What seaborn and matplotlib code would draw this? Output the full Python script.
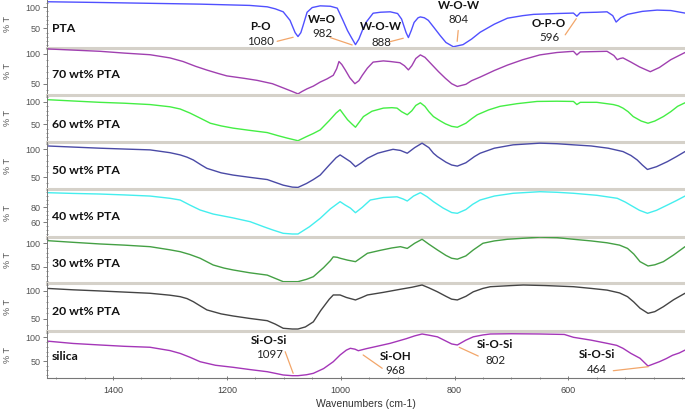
import matplotlib
matplotlib.use("Agg")
import matplotlib.pyplot as plt
import seaborn as sns
import pandas as pd
from matplotlib.ticker import MultipleLocator, FixedLocator

sns.set_theme(style="white")
plt.rcParams["font.family"] = ["Lato", "DejaVu Sans"]

# ---------------- data (wavenumber cm-1, %T) ----------------
pta_wn = [1516, 1431, 1247, 1160, 1129, 1115, 1101, 1089, 1080, 1075, 1070, 1066, 1059, 1050, 1036, 1018, 1006, 996, 988, 983, 974, 968, 962, 955, 943, 930, 913, 900, 893, 885, 881, 876, 871, 864, 860, 853, 846, 836, 825, 815, 802, 785, 770, 755, 730, 707, 680, 661, 620, 591, 585, 579, 550, 532, 522, 516, 508, 496, 470, 444, 420, 395]
pta_t = [112.6, 111, 107, 104, 100.7, 96, 89, 69, 40, 31, 40, 57, 88, 99, 103, 102, 97.6, 69, 45, 33, 12, 25, 45, 65, 85.7, 88, 89, 85, 72, 40, 28.6, 45, 64, 75, 77, 75, 69, 52, 33, 17, 7, 12, 25, 41, 60, 74, 80, 83, 85, 86, 78.6, 87, 88, 89, 80, 65, 75, 83, 90, 93, 92, 86]

w70_wn = [1516, 1470, 1423, 1380, 1335, 1300, 1277, 1255, 1235, 1215, 1200, 1170, 1147, 1120, 1101, 1085, 1075, 1068, 1059, 1048, 1036, 1024, 1013, 1007, 1003, 998, 992, 984, 975, 968, 962, 953, 943, 925, 913, 896, 888, 881, 875, 868, 860, 852, 845, 839, 828, 816, 805, 795, 780, 770, 755, 730, 707, 680, 650, 620, 591, 585, 579, 532, 520, 514, 509, 504, 490, 475, 456, 440, 420, 395]
w70_t = [108, 106, 104, 101, 98.3, 93, 87, 79, 72.7, 67, 63, 59, 55.6, 50, 43, 37, 33, 37, 41.5, 46, 52.7, 58, 64, 75, 87, 82, 73, 60, 50, 55, 64, 76, 86, 88, 87, 85, 80, 73, 80, 92, 98, 94, 87, 81, 70, 59, 50, 45.4, 49, 55, 61, 72, 81, 90, 98, 102, 104, 98, 103, 104, 97, 90, 92, 93, 86, 78, 70, 77, 90, 102]

w60_wn = [1516, 1470, 1423, 1380, 1335, 1300, 1282, 1265, 1247, 1229, 1210, 1189, 1160, 1129, 1110, 1094, 1075, 1060, 1048, 1036, 1020, 1008, 1001, 995, 988, 980, 974, 967, 960, 945, 925, 910, 901, 893, 883, 875, 868, 860, 852, 845, 837, 826, 816, 805, 795, 780, 770, 760, 740, 720, 690, 655, 620, 591, 585, 579, 550, 521, 512, 504, 495, 486, 472, 460, 448, 433, 420, 408, 395]
w60_t = [105, 102, 99, 97, 94, 89, 84, 75, 63.6, 52, 46, 41, 36, 31, 24, 18.6, 12.7, 22, 29, 37, 58, 75, 82.5, 72, 60, 50, 43, 55, 67, 79, 86, 87, 86, 78, 71, 80, 92, 98, 90, 78, 67, 58, 50.7, 45, 43, 52, 62, 71, 82, 90, 96, 101, 101.5, 101, 94, 99, 99, 94, 91, 86, 78, 67, 57, 52, 57, 67, 78, 90, 98]

w50_wn = [1516, 1470, 1423, 1380, 1335, 1300, 1282, 1270, 1259, 1245, 1235, 1210, 1189, 1160, 1129, 1115, 1101, 1085, 1075, 1060, 1048, 1036, 1020, 1008, 1001, 992, 983, 974, 965, 953, 935, 920, 908, 895, 883, 870, 857, 845, 837, 830, 815, 805, 795, 780, 765, 755, 730, 697, 650, 620, 591, 560, 530, 504, 490, 479, 470, 461, 445, 426, 410, 395]
w50_t = [106, 104, 102, 100.5, 99, 94, 90, 86, 81, 72, 66, 58, 54, 50, 46, 41, 36, 32.5, 32, 39, 46, 54, 72, 85, 90, 84, 78, 69, 75, 84, 93, 97, 100, 98, 93, 103, 111, 103, 93, 87, 77, 72, 70, 76, 87, 93, 102, 108, 111, 110, 108, 106, 102, 96, 89, 81, 72, 64, 69, 78, 87, 96]

w40_wn = [1516, 1470, 1423, 1380, 1335, 1300, 1282, 1265, 1247, 1224, 1190, 1159, 1135, 1119, 1101, 1085, 1075, 1055, 1036, 1018, 1001, 992, 983, 974, 962, 948, 925, 901, 890, 883, 872, 860, 848, 837, 820, 805, 795, 780, 768, 755, 730, 697, 650, 620, 591, 550, 514, 500, 491, 475, 461, 445, 426, 410, 395]
w40_t = [99.5, 98.5, 97.7, 96.5, 95, 92, 89.7, 83, 76.4, 71, 66, 60.8, 54, 49.7, 45.3, 44.4, 44.4, 54, 65.3, 78, 87.5, 83, 79, 72.8, 80, 89.7, 93, 94, 91, 88.4, 95, 99.5, 94, 87.5, 79, 73, 72, 77, 84, 89.7, 95, 98.7, 100.8, 100, 98.7, 96, 92, 87, 83, 76, 72, 76, 83, 89, 95]

w30_wn = [1516, 1470, 1423, 1380, 1335, 1300, 1282, 1265, 1247, 1224, 1205, 1189, 1160, 1129, 1115, 1101, 1085, 1075, 1060, 1048, 1030, 1018, 1013, 1006, 1001, 988, 974, 963, 953, 930, 910, 895, 883, 870, 857, 845, 830, 815, 805, 795, 780, 767, 750, 730, 707, 650, 620, 591, 560, 532, 510, 496, 485, 474, 460, 448, 433, 415, 395]
w30_t = [105.6, 102, 98.5, 96, 92.7, 86, 82, 76, 68, 53.6, 47, 43, 37, 32, 25, 18, 18, 18, 23, 28.6, 48, 63, 71, 70, 68, 64, 60.7, 70, 78.6, 85, 90, 92.7, 89, 100, 108.5, 98, 85.7, 74, 68, 66, 73, 85.7, 100, 105, 108.5, 113, 112, 108.5, 105, 101, 96, 89, 77, 60.7, 51.5, 54, 60.7, 75, 92.7]

w20_wn = [1516, 1470, 1423, 1380, 1335, 1300, 1282, 1270, 1259, 1245, 1235, 1210, 1189, 1160, 1129, 1115, 1101, 1085, 1075, 1062, 1048, 1035, 1020, 1013, 1001, 990, 974, 963, 953, 925, 895, 875, 857, 845, 830, 815, 805, 795, 780, 767, 750, 737, 700, 679, 640, 591, 560, 532, 510, 496, 485, 474, 460, 448, 433, 415, 395]
w20_t = [104, 101.5, 99.5, 97.5, 95.4, 92, 89.4, 86, 80.6, 72, 66, 59, 55.3, 51, 47, 41, 33.6, 32.3, 32.3, 36, 45, 65, 85, 92.4, 92.4, 88, 83.6, 88, 92.4, 97, 102.5, 106, 110, 105, 98, 90, 85, 83.6, 90, 98, 104, 107, 109, 110, 109, 107, 104, 101, 96, 89.4, 80, 69, 60, 63, 71.7, 84, 95.4]

sil_wn = [1516, 1470, 1423, 1380, 1335, 1300, 1282, 1265, 1247, 1220, 1189, 1160, 1129, 1115, 1101, 1085, 1075, 1060, 1048, 1030, 1013, 1001, 990, 983, 975, 969, 955, 940, 913, 885, 870, 857, 845, 830, 815, 805, 795, 780, 767, 750, 737, 700, 650, 607, 591, 560, 532, 515, 504, 490, 474, 460, 450, 440, 428, 417, 405, 395]
sil_t = [92, 87, 83.8, 81, 79, 72, 66, 58, 48.5, 41, 36.7, 32, 27.4, 24, 20.5, 19, 19, 21, 24, 34, 48.5, 62.7, 73, 76.8, 75, 71.7, 76, 80, 87.3, 97, 103, 107, 104.5, 101, 92, 86, 83.8, 94, 101, 105, 107, 107.5, 107, 106, 100, 94, 87.3, 83, 76.8, 66, 55.7, 39.4, 44, 48.5, 55, 62, 67, 73]

labels = ["PTA", "70 wt% PTA", "60 wt% PTA", "50 wt% PTA", "40 wt% PTA", "30 wt% PTA", "20 wt% PTA", "silica"]
series_wn = [pta_wn, w70_wn, w60_wn, w50_wn, w40_wn, w30_wn, w20_wn, sil_wn]
series_t = [pta_t, w70_t, w60_t, w50_t, w40_t, w30_t, w20_t, sil_t]
colors = ["#5050ff", "#a040b0", "#44ee44", "#4a4aa6", "#44eeee", "#44a044", "#444444", "#a436b8"]
ylims = [(4.8, 116.7), (32, 110), (10.5, 116.6), (28.6, 113.6), (40.8, 104), (14.5, 114), (28.8, 113), (13.5, 113.3)]
yticks = [[50, 100], [50, 100], [50, 100], [50, 100], [60, 80], [50, 100], [50, 100], [50, 100]]

xticks = [1400, 1200, 1000, 800, 600]

# annotations: (panel, label, number, text x, label y, number y, line x0, y0, x1, y1)
annots = [
    (0, "P-O", "1080", 1141, 54.8, 19.8, 1111.6, 19.8, 1083.5, 29.3),
    (0, "W=O", "982", 1032, 70.7, 38, 1018.5, 28.6, 979.8, 11.2),
    (0, "W-O-W", "888", 929, 54.8, 17.4, 913, 19, 890, 27),
    (0, "W-O-W", "804", 792, 104.8, 71.4, 793.5, 45.2, 795.3, 19.8),
    (0, "O-P-O", "596", 634, 61.2, 29.3, 605.5, 35, 586, 73),
    (7, "Si-O-Si", "1097", 1126, 94.3, 62.7, 1097.5, 69.6, 1083.5, 24),
    (7, "Si-OH", "968", 904, 59, 31, 960.5, 62.7, 927, 34.6),
    (7, "Si-O-Si", "802", 728.5, 83.8, 52, 791.7, 78.9, 758.3, 60.5),
    (7, "Si-O-Si", "464", 549, 62.7, 32.5, 521, 29.5, 459.5, 38),
]

# ---------------- layout ----------------
W, H = 685, 413
fig = plt.figure(figsize=(W / 100, H / 100), dpi=100)
bounds = [0, 47.7, 94.5, 141.7, 189.3, 236.7, 283.3, 331, 378.3]
label_y = [28, 74, 124.3, 171, 216.7, 263.3, 311.7, 356]
x0, x1 = 47, 685
tick_family = ["Liberation Sans", "DejaVu Sans"]

axes = []
for i in range(8):
    top, bot = bounds[i], bounds[i + 1]
    ax = fig.add_axes([x0 / W, 1 - bot / H, (x1 - x0) / W, (bot - top) / H])
    axes.append(ax)
    df = pd.DataFrame({"wn": series_wn[i], "T": series_t[i]})
    sns.lineplot(data=df, x="wn", y="T", ax=ax, color=colors[i], lw=1.0,
                 estimator=None, sort=False)
    ax.set_xlim(1516, 395)
    ax.set_ylim(*ylims[i])
    ax.set_xlabel("")
    ax.set_ylabel("")
    ax.yaxis.set_major_locator(FixedLocator(yticks[i]))
    ax.yaxis.set_minor_locator(MultipleLocator(10 if i != 4 else 5))
    ax.tick_params(axis="y", which="major", length=3, width=0.6, color="#666666",
                   direction="out", pad=1.5, labelcolor="#555555", left=True)
    ax.tick_params(axis="y", which="minor", length=1.5, width=0.5, color="#666666",
                   direction="inout", left=True)
    for lab in ax.get_yticklabels():
        lab.set_fontfamily(tick_family)
        lab.set_fontsize(6.5)
    ax.spines["top"].set_visible(False)
    ax.spines["right"].set_visible(False)
    ax.spines["left"].set_color("#777777")
    ax.spines["left"].set_linewidth(0.7)
    if i < 7:
        ax.spines["bottom"].set_color("#d5d1c9")
        ax.spines["bottom"].set_linewidth(2.2)
        ax.set_xticks([])
    else:
        ax.spines["bottom"].set_color("#777777")
        ax.spines["bottom"].set_linewidth(0.8)
        ax.xaxis.set_major_locator(FixedLocator(xticks))
        ax.xaxis.set_minor_locator(MultipleLocator(50))
        ax.tick_params(axis="x", which="major", length=3, width=0.6, color="#666666",
                       direction="inout", pad=4, labelcolor="#444444", bottom=True)
        ax.tick_params(axis="x", which="minor", length=2, width=0.5, color="#666666",
                       direction="inout", bottom=True)
        for lab in ax.get_xticklabels():
            lab.set_fontfamily(tick_family)
            lab.set_fontsize(6.5)
    ax.patch.set_alpha(0)
    fig.text(52 / W, 1 - label_y[i] / H, labels[i], fontsize=8.8, fontweight="bold",
             ha="left", va="center", color="#111111")
    fig.text(8 / W, 1 - (top + bot) / 2 / H, "% T", rotation=90, ha="center", va="center",
             fontsize=6.5, color="#555555", family=tick_family)

for (p, lab, num, tx, ly, ny, lx0, ly0, lx1, ly1) in annots:
    ax = axes[p]
    ax.text(tx, ly, lab, fontsize=8.3, fontweight="bold", ha="center", va="center",
            color="#111111", clip_on=False)
    ax.text(tx, ny, num, fontsize=8.3, ha="center", va="center", color="#222222",
            clip_on=False)
    ax.plot([lx0, lx1], [ly0, ly1], color="#f2a66a", lw=0.9, clip_on=False)

fig.text(366 / W, 1 - 404 / H, "Wavenumbers (cm-1)", ha="center", va="center",
         fontsize=7.5, color="#333333", family=tick_family)

fig.savefig("out.png", dpi=100)
